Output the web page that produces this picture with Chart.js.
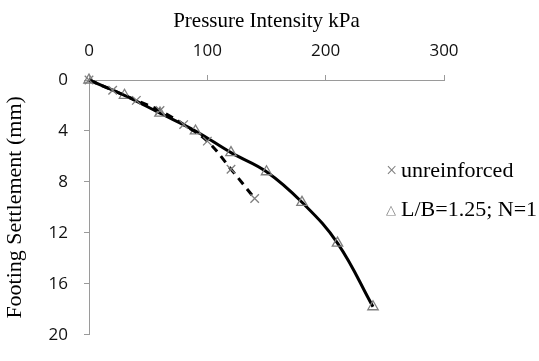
<!DOCTYPE html>
<html>
<head>
<meta charset="utf-8">
<script src="https://cdn.jsdelivr.net/npm/chart.js@4"></script>
<style>
  body { margin: 0; background: #fff; }
  #wrap { position: relative; width: 539px; height: 361px; }
  .leg { position: absolute; font-family: "Liberation Serif", serif; font-size: 22px; color: #000; white-space: nowrap; line-height: 25px; }
  .leg span { color: #7f7f7f; display: inline-block; width: 15px; font-size: 20px; }
  .leg .tri { font-size: 13px; vertical-align: 2px; }
</style>
</head>
<body>
<div id="wrap">
  <canvas id="chart" width="539" height="361"></canvas>
  <div class="leg" style="left:386px;top:157px"><span>×</span>unreinforced</div>
  <div class="leg" style="left:386px;top:196px"><span class="tri">△</span>L/B=1.25; N=1</div>
</div>
<script>
// pressure (kPa) vs settlement (mm)
const pressureUnreinforced = [0, 20, 40, 60, 80, 100, 120, 140];
const settlementUnreinforced = [0, 0.8, 1.6, 2.4, 3.5, 4.8, 7.0, 9.3];

const pressureReinforced = [0, 30, 60, 90, 120, 150, 180, 210, 240];
const settlementReinforced = [0, 1.2, 2.6, 4.0, 5.7, 7.2, 9.6, 12.8, 17.8];

const xTicks = [0, 100, 200, 300];
const yTicks = [0, 4, 8, 12, 16, 20];

const toPoints = (xs, ys) => xs.map((x, i) => ({ x: x, y: ys[i] }));

const axisGrey = '#9a9a9a';
const tickFont = { family: 'Open Sans', size: 17 };

new Chart(document.getElementById('chart'), {
  type: 'scatter',
  data: {
    datasets: [{
      label: 'unreinforced',
      data: toPoints(pressureUnreinforced, settlementUnreinforced),
      showLine: true,
      borderColor: '#000',
      borderWidth: 3,
      borderDash: [8, 6],
      tension: 0.4,
      pointStyle: 'crossRot',
      pointRadius: 6,
      pointBorderWidth: 1.3,
      pointBorderColor: '#7f7f7f',
      pointBackgroundColor: 'rgba(0,0,0,0)',
      clip: false
    }, {
      label: 'L/B=1.25; N=1',
      data: toPoints(pressureReinforced, settlementReinforced),
      showLine: true,
      borderColor: '#000',
      borderWidth: 3,
      tension: 0.4,
      pointStyle: 'triangle',
      pointRadius: 6,
      pointBorderWidth: 1.3,
      pointBorderColor: '#7f7f7f',
      pointBackgroundColor: 'rgba(0,0,0,0)',
      clip: false
    }]
  },
  options: {
    responsive: false,
    animation: false,
    layout: { autoPadding: false, padding: { top: 0, left: 0, right: 95, bottom: 10 } },
    plugins: { legend: { display: false }, tooltip: { enabled: false } },
    scales: {
      x: {
        type: 'linear',
        position: 'top',
        min: 0,
        max: 300,
        afterFit: s => { s.height = 80; },
        afterBuildTicks: s => { s.ticks = xTicks.map(v => ({ value: v })); },
        ticks: { font: tickFont, color: '#111', padding: 14 },
        grid: { drawOnChartArea: false, tickLength: 5, color: axisGrey },
        border: { color: axisGrey },
        title: { display: true, text: 'Pressure Intensity kPa', font: { family: 'Liberation Serif', size: 21 }, color: '#000', padding: { top: 9, bottom: 0 } }
      },
      y: {
        type: 'linear',
        reverse: true,
        min: 0,
        max: 20,
        afterFit: s => { s.width = 89; },
        afterBuildTicks: s => { s.ticks = yTicks.map(v => ({ value: v })); },
        ticks: { font: tickFont, color: '#111', padding: 16 },
        grid: { drawOnChartArea: false, tickLength: 5, color: axisGrey },
        border: { color: axisGrey },
        title: { display: true, text: 'Footing Settlement (mm)', font: { family: 'Liberation Serif', size: 22 }, color: '#000', padding: { top: 2, bottom: 0 } }
      }
    }
  }
});
</script>
</body>
</html>
